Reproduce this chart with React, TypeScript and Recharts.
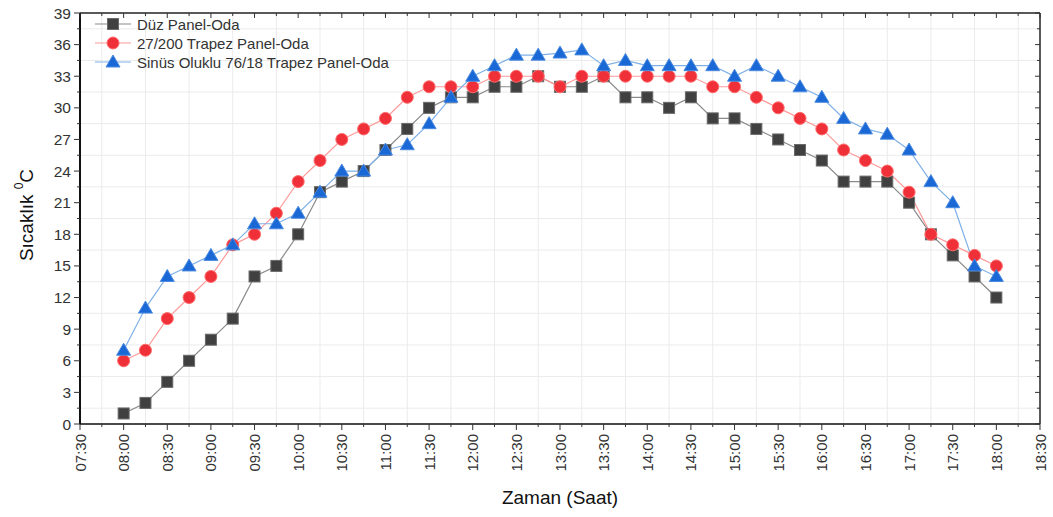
import { LineChart, Line, XAxis, YAxis, CartesianGrid } from "recharts";

// measurement times (every 15 minutes)
const times = [
  "08:00", "08:15", "08:30", "08:45", "09:00", "09:15", "09:30", "09:45",
  "10:00", "10:15", "10:30", "10:45", "11:00", "11:15", "11:30", "11:45",
  "12:00", "12:15", "12:30", "12:45", "13:00", "13:15", "13:30", "13:45",
  "14:00", "14:15", "14:30", "14:45", "15:00", "15:15", "15:30", "15:45",
  "16:00", "16:15", "16:30", "16:45", "17:00", "17:15", "17:30", "17:45",
  "18:00",
];

const duzPanel = [
  1, 2, 4, 6, 8, 10, 14, 15, 18, 22, 23, 24, 26, 28, 30, 31, 31, 32, 32, 33,
  32, 32, 33, 31, 31, 30, 31, 29, 29, 28, 27, 26, 25, 23, 23, 23, 21, 18, 16,
  14, 12,
];

const trapezPanel = [
  6, 7, 10, 12, 14, 17, 18, 20, 23, 25, 27, 28, 29, 31, 32, 32, 32, 33, 33, 33,
  32, 33, 33, 33, 33, 33, 33, 32, 32, 31, 30, 29, 28, 26, 25, 24, 22, 18, 17,
  16, 15,
];

const sinusPanel = [
  7, 11, 14, 15, 16, 17, 19, 19, 20, 22, 24, 24, 26, 26.5, 28.5, 31, 33, 34,
  35, 35, 35.2, 35.5, 34, 34.5, 34, 34, 34, 34, 33, 34, 33, 32, 31, 29, 28,
  27.5, 26, 23, 21, 15, 14,
];

// axis ticks
const xTickLabels = [
  "07:30", "07:45", "08:00", "08:15", "08:30", "08:45", "09:00", "09:15",
  "09:30", "09:45", "10:00", "10:15", "10:30", "10:45", "11:00", "11:15",
  "11:30", "11:45", "12:00", "12:15", "12:30", "12:45", "13:00", "13:15",
  "13:30", "13:45", "14:00", "14:15", "14:30", "14:45", "15:00", "15:15",
  "15:30", "15:45", "16:00", "16:15", "16:30", "16:45", "17:00", "17:15",
  "17:30", "17:45", "18:00", "18:15", "18:30",
];
const yTickValues = [
  0, 1.5, 3, 4.5, 6, 7.5, 9, 10.5, 12, 13.5, 15, 16.5, 18, 19.5, 21, 22.5, 24,
  25.5, 27, 28.5, 30, 31.5, 33, 34.5, 36, 37.5, 39,
];

const toMin = (s: string) => {
  const [h, m] = s.split(":").map(Number);
  return h * 60 + m;
};
const fmt = (m: number) =>
  `${String(Math.floor(m / 60)).padStart(2, "0")}:${String(m % 60).padStart(2, "0")}`;

const xTicks = xTickLabels.map(toMin);
const xMinor = xTicks.filter((m) => m % 30 !== 0);
const yMinor = yTickValues.filter((v) => v % 3 !== 0);

const data = times.map((t, i) => ({
  t: toMin(t),
  duz: duzPanel[i],
  trapez: trapezPanel[i],
  sinus: sinusPanel[i],
}));

const FONT = "'Liberation Sans', Arial, sans-serif";
const AXIS = "#333";

const BottomTick = ({ x, y, payload }: any) => {
  const major = payload.value % 30 === 0;
  return (
    <g>
      <line x1={x} x2={x} y1={y} y2={y + (major ? 6 : 3)} stroke={AXIS} strokeWidth={1} />
      {major && (
        <text
          x={x}
          y={y + 10}
          transform={`rotate(-90 ${x} ${y + 10})`}
          textAnchor="end"
          dominantBaseline="central"
          fontSize={15}
          fontFamily={FONT}
          fill="#333"
        >
          {fmt(payload.value)}
        </text>
      )}
    </g>
  );
};

const TopTick = ({ x, payload }: any) => {
  const major = payload.value % 30 === 0;
  return <line x1={x} x2={x} y1={13} y2={13 + (major ? 5 : 3)} stroke={AXIS} strokeWidth={1} />;
};

const LeftTick = ({ x, y, payload }: any) => {
  const major = payload.value % 3 === 0;
  return (
    <g>
      <line x1={x} x2={x - (major ? 6 : 3)} y1={y} y2={y} stroke={AXIS} strokeWidth={1} />
      {major && (
        <text
          x={x - 9}
          y={y}
          textAnchor="end"
          dominantBaseline="central"
          fontSize={15.5}
          fontFamily={FONT}
          fill="#333"
        >
          {payload.value}
        </text>
      )}
    </g>
  );
};

const RightTick = ({ y, payload }: any) => {
  const major = payload.value % 3 === 0;
  return <line x1={1040} x2={1040 - (major ? 5 : 3)} y1={y} y2={y} stroke={AXIS} strokeWidth={1} />;
};

const SquareDot = ({ cx, cy }: any) =>
  cx == null ? null : (
    <rect x={cx - 5.5} y={cy - 5.5} width={11} height={11} fill="#404040" stroke="#6a6a6a" strokeWidth={1} />
  );

const TriangleDot = ({ cx, cy }: any) =>
  cx == null ? null : (
    <polygon
      points={`${cx},${cy - 7} ${cx - 7},${cy + 5} ${cx + 7},${cy + 5}`}
      fill="#1a68d6"
      stroke="#4a8ae0"
      strokeWidth={1}
    />
  );

const legendItems = [
  { label: "Düz Panel-Oda", line: "#8a8a8a", kind: "square" },
  { label: "27/200 Trapez Panel-Oda", line: "#ff9a9a", kind: "circle" },
  { label: "Sinüs Oluklu 76/18 Trapez Panel-Oda", line: "#7fb0e8", kind: "triangle" },
];

const LegendBox = () => (
  <svg width={360} height={64} style={{ display: "block" }}>
    {legendItems.map((it, i) => {
      const cy = 10 + i * 19;
      return (
        <g key={it.label}>
          <line x1={4} x2={40} y1={cy} y2={cy} stroke={it.line} strokeWidth={1.2} />
          {it.kind === "square" && <SquareDot cx={22} cy={cy} />}
          {it.kind === "circle" && <circle cx={22} cy={cy} r={6} fill="#f03038" stroke="#ff6a6a" />}
          {it.kind === "triangle" && <TriangleDot cx={22} cy={cy} />}
          <text x={46} y={cy} dominantBaseline="central" fontSize={15} fontFamily={FONT} fill="#333">
            {it.label}
          </text>
        </g>
      );
    })}
  </svg>
);

export default function App() {
  return (
    <div style={{ position: "absolute", left: 0, top: 0, width: 1053, height: 517, background: "#fff" }}>
      <LineChart
        width={1053}
        height={517}
        data={data}
        margin={{ top: 12, right: 12, left: 0, bottom: 0 }}
      >
        <CartesianGrid
          stroke="#ebebeb"
          strokeWidth={1}
          verticalValues={xMinor}
          horizontalValues={yMinor}
        />
        <XAxis
          dataKey="t"
          type="number"
          domain={[450, 1110]}
          ticks={xTicks}
          interval={0}
          height={93}
          tickSize={0}
          tickMargin={0}
          tickLine={false}
          tick={<BottomTick />}
          axisLine={{ stroke: "#4a4a4a", strokeWidth: 2 }}
          label={() => (
            <text x={560} y={497} textAnchor="middle" dominantBaseline="central" fontSize={19} fontFamily={FONT} fill="#111">
              Zaman (Saat)
            </text>
          )}
        />
        <XAxis
          xAxisId="top"
          orientation="top"
          dataKey="t"
          type="number"
          domain={[450, 1110]}
          ticks={xTicks}
          interval={0}
          height={1}
          tickSize={0}
          tickMargin={0}
          tickLine={false}
          tick={<TopTick />}
          axisLine={{ stroke: "#222", strokeWidth: 1.5 }}
        />
        <YAxis
          type="number"
          domain={[0, 39]}
          ticks={yTickValues}
          interval={0}
          width={80}
          tickSize={0}
          tickMargin={0}
          tickLine={false}
          tick={<LeftTick />}
          axisLine={{ stroke: "#111", strokeWidth: 2 }}
          label={() => (
            <text
              x={26}
              y={215}
              transform="rotate(-90 26 215)"
              textAnchor="middle"
              dominantBaseline="central"
              fontSize={19}
              fontFamily={FONT}
              fill="#111"
            >
              Sıcaklık <tspan dy={-7} fontSize={12}>0</tspan>
              <tspan dy={7}>C</tspan>
            </text>
          )}
        />
        <YAxis
          yAxisId="right"
          orientation="right"
          type="number"
          domain={[0, 39]}
          ticks={yTickValues}
          interval={0}
          width={1}
          tickSize={0}
          tickMargin={0}
          tickLine={false}
          tick={<RightTick />}
          axisLine={{ stroke: "#222", strokeWidth: 1.5 }}
        />
        {/* invisible series so the mirrored frame axes get drawn */}
        <Line
          xAxisId="top"
          yAxisId="right"
          dataKey="duz"
          stroke="none"
          dot={false}
          activeDot={false}
          legendType="none"
          isAnimationActive={false}
        />
        <Line
          dataKey="duz"
          name="Düz Panel-Oda"
          stroke="#8a8a8a"
          strokeWidth={1.2}
          dot={<SquareDot />}
          activeDot={false}
          isAnimationActive={false}
        />
        <Line
          dataKey="trapez"
          name="27/200 Trapez Panel-Oda"
          stroke="#ff9a9a"
          strokeWidth={1.2}
          dot={{ r: 6, fill: "#f03038", stroke: "#ff6a6a", strokeWidth: 1 }}
          activeDot={false}
          isAnimationActive={false}
        />
        <Line
          dataKey="sinus"
          name="Sinüs Oluklu 76/18 Trapez Panel-Oda"
          stroke="#7fb0e8"
          strokeWidth={1.2}
          dot={<TriangleDot />}
          activeDot={false}
          isAnimationActive={false}
        />
      </LineChart>
      <div style={{ position: "absolute", left: 91, top: 14 }}>
        <LegendBox />
      </div>
    </div>
  );
}
